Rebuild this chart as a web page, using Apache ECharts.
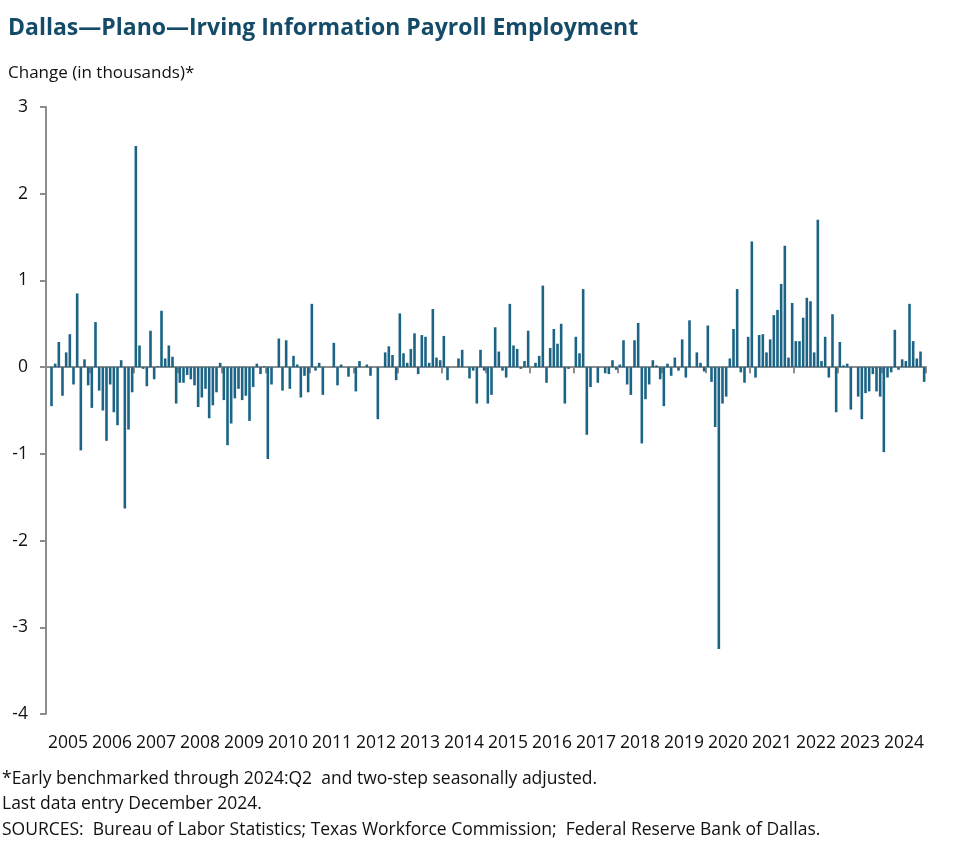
<!DOCTYPE html>
<html>
<head>
<meta charset="utf-8">
<script src="https://cdn.jsdelivr.net/npm/echarts@6/dist/echarts.min.js"></script>
<style>
html,body{margin:0;padding:0;background:#fff;}
#chart{width:977px;height:864px;}
</style>
</head>
<body>
<div id="chart"></div>
<script>
const years = ['2005','2006','2007','2008','2009','2010','2011','2012','2013','2014','2015','2016','2017','2018','2019','2020','2021','2022','2023','2024'];
const monthNames = ['01','02','03','04','05','06','07','08','09','10','11','12'];
const months = [];
years.forEach(y => monthNames.forEach(m => months.push(y + '-' + m)));

// Monthly change in thousands, Jan 2005 – Dec 2024 (one row per year)
const v2005 = [null, -0.45, 0.04, 0.29, -0.33, 0.17, 0.38, -0.20, 0.85, -0.96, 0.09, -0.21];
const v2006 = [-0.47, 0.52, -0.27, -0.50, -0.85, -0.20, -0.52, -0.67, 0.08, -1.63, -0.72, -0.29];
const v2007 = [2.55, 0.25, -0.02, -0.22, 0.42, -0.14, 0.01, 0.65, 0.10, 0.25, 0.12, -0.42];
const v2008 = [-0.18, -0.18, -0.09, -0.14, -0.21, -0.46, -0.35, -0.25, -0.59, -0.44, -0.29, 0.05];
const v2009 = [-0.38, -0.90, -0.65, -0.36, -0.25, -0.38, -0.33, -0.62, -0.23, 0.04, -0.08, 0.01];
const v2010 = [-1.06, -0.20, 0.00, 0.33, -0.27, 0.31, -0.25, 0.13, 0.03, -0.35, -0.10, -0.29];
const v2011 = [0.73, -0.04, 0.05, -0.32, 0.00, 0.00, 0.28, -0.21, 0.03, 0.00, -0.11, 0.00];
const v2012 = [-0.28, 0.07, 0.00, 0.03, -0.10, 0.00, -0.60, 0.00, 0.17, 0.24, 0.14, -0.15];
const v2013 = [0.62, 0.16, 0.05, 0.21, 0.39, -0.08, 0.37, 0.35, 0.05, 0.67, 0.11, 0.08];
const v2014 = [0.36, -0.15, 0.00, 0.00, 0.10, 0.20, 0.00, -0.13, -0.04, -0.42, 0.20, -0.04];
const v2015 = [-0.42, -0.32, 0.46, 0.18, -0.04, -0.12, 0.73, 0.25, 0.21, -0.02, 0.07, 0.42];
const v2016 = [0.00, 0.05, 0.13, 0.94, -0.18, 0.22, 0.44, 0.27, 0.50, -0.42, -0.02, 0.00];
const v2017 = [0.35, 0.16, 0.90, -0.78, -0.23, 0.00, -0.18, 0.00, -0.07, -0.08, 0.08, -0.03];
const v2018 = [0.03, 0.31, -0.20, -0.32, 0.31, 0.51, -0.88, -0.37, -0.20, 0.08, 0.02, -0.14];
const v2019 = [-0.45, 0.04, -0.10, 0.11, -0.04, 0.32, -0.12, 0.54, 0.00, 0.17, 0.05, -0.05];
const v2020 = [0.48, -0.17, -0.69, -3.25, -0.42, -0.34, 0.10, 0.44, 0.90, -0.06, -0.18, 0.35];
const v2021 = [1.45, -0.12, 0.37, 0.38, 0.17, 0.32, 0.60, 0.66, 0.96, 1.40, 0.11, 0.74];
const v2022 = [0.30, 0.30, 0.57, 0.80, 0.76, 0.17, 1.70, 0.07, 0.35, -0.12, 0.61, -0.52];
const v2023 = [0.29, 0.02, 0.04, -0.49, 0.00, -0.34, -0.60, -0.30, -0.28, -0.08, -0.28, -0.34];
const v2024 = [-0.98, -0.12, -0.06, 0.43, -0.03, 0.09, 0.07, 0.73, 0.30, 0.10, 0.18, -0.17];

const values = [].concat(v2005, v2006, v2007, v2008, v2009, v2010, v2011, v2012, v2013, v2014,
  v2015, v2016, v2017, v2018, v2019, v2020, v2021, v2022, v2023, v2024);

const titleText = 'Dallas\u2014Plano\u2014Irving Information Payroll Employment';
const yAxisTitle = 'Change (in thousands)*';
const notes = [
  '*Early benchmarked through 2024:Q2  and two-step seasonally adjusted.',
  'Last data entry December 2024.',
  'SOURCES:  Bureau of Labor Statistics; Texas Workforce Commission;  Federal Reserve Bank of Dallas.'
];

const FONT = '"Open Sans", Roboto, sans-serif';
const AXIS_GRAY = '#8c8c8c';
const chart = echarts.init(document.getElementById('chart'), null, {renderer: 'canvas'});
chart.setOption({
  animation: false,
  backgroundColor: '#fff',
  textStyle: {fontFamily: FONT},
  title: {
    text: titleText,
    left: 3, top: 12,
    textStyle: {fontFamily: FONT, fontSize: 23, fontWeight: 'bold', color: '#134b68'}
  },
  graphic: [
    {type: 'text', left: 8, top: 65, style: {text: yAxisTitle, font: '17px ' + FONT, fill: '#111'}},
    {type: 'text', left: 2, top: 770, style: {text: notes[0], font: '17.5px ' + FONT, fill: '#111'}},
    {type: 'text', left: 2, top: 795, style: {text: notes[1], font: '17.5px ' + FONT, fill: '#111'}},
    {type: 'text', left: 2, top: 821, style: {text: notes[2], font: '17.5px ' + FONT, fill: '#111'}}
  ],
  grid: {left: 46, right: 51, top: 107, bottom: 150, containLabel: false},
  xAxis: [
    {
      type: 'category',
      data: months,
      boundaryGap: true,
      axisLine: {show: true, onZero: true, lineStyle: {color: AXIS_GRAY, width: 2}},
      axisTick: {show: true, interval: (i) => i % 12 === 0, length: 6, lineStyle: {color: AXIS_GRAY, width: 2}},
      axisLabel: {show: false},
      splitLine: {show: false}
    },
    {
      type: 'category',
      data: years,
      position: 'bottom',
      boundaryGap: true,
      axisLine: {show: false, onZero: false},
      axisTick: {show: false},
      axisLabel: {show: true, interval: 0, fontSize: 17.5, color: '#111', margin: 20, fontFamily: FONT},
      splitLine: {show: false}
    }
  ],
  yAxis: {
    type: 'value',
    min: -4, max: 3, interval: 1,
    axisLine: {show: true, lineStyle: {color: AXIS_GRAY, width: 2}},
    axisTick: {show: true, length: 6, lineStyle: {color: AXIS_GRAY, width: 2}},
    axisLabel: {fontSize: 17.5, color: '#111', margin: 18, fontFamily: FONT},
    splitLine: {show: false}
  },
  series: [{
    type: 'bar',
    xAxisIndex: 0,
    yAxisIndex: 0,
    data: values,
    barWidth: 2.6,
    itemStyle: {color: '#1b6485'}
  }]
});
</script>
</body>
</html>
